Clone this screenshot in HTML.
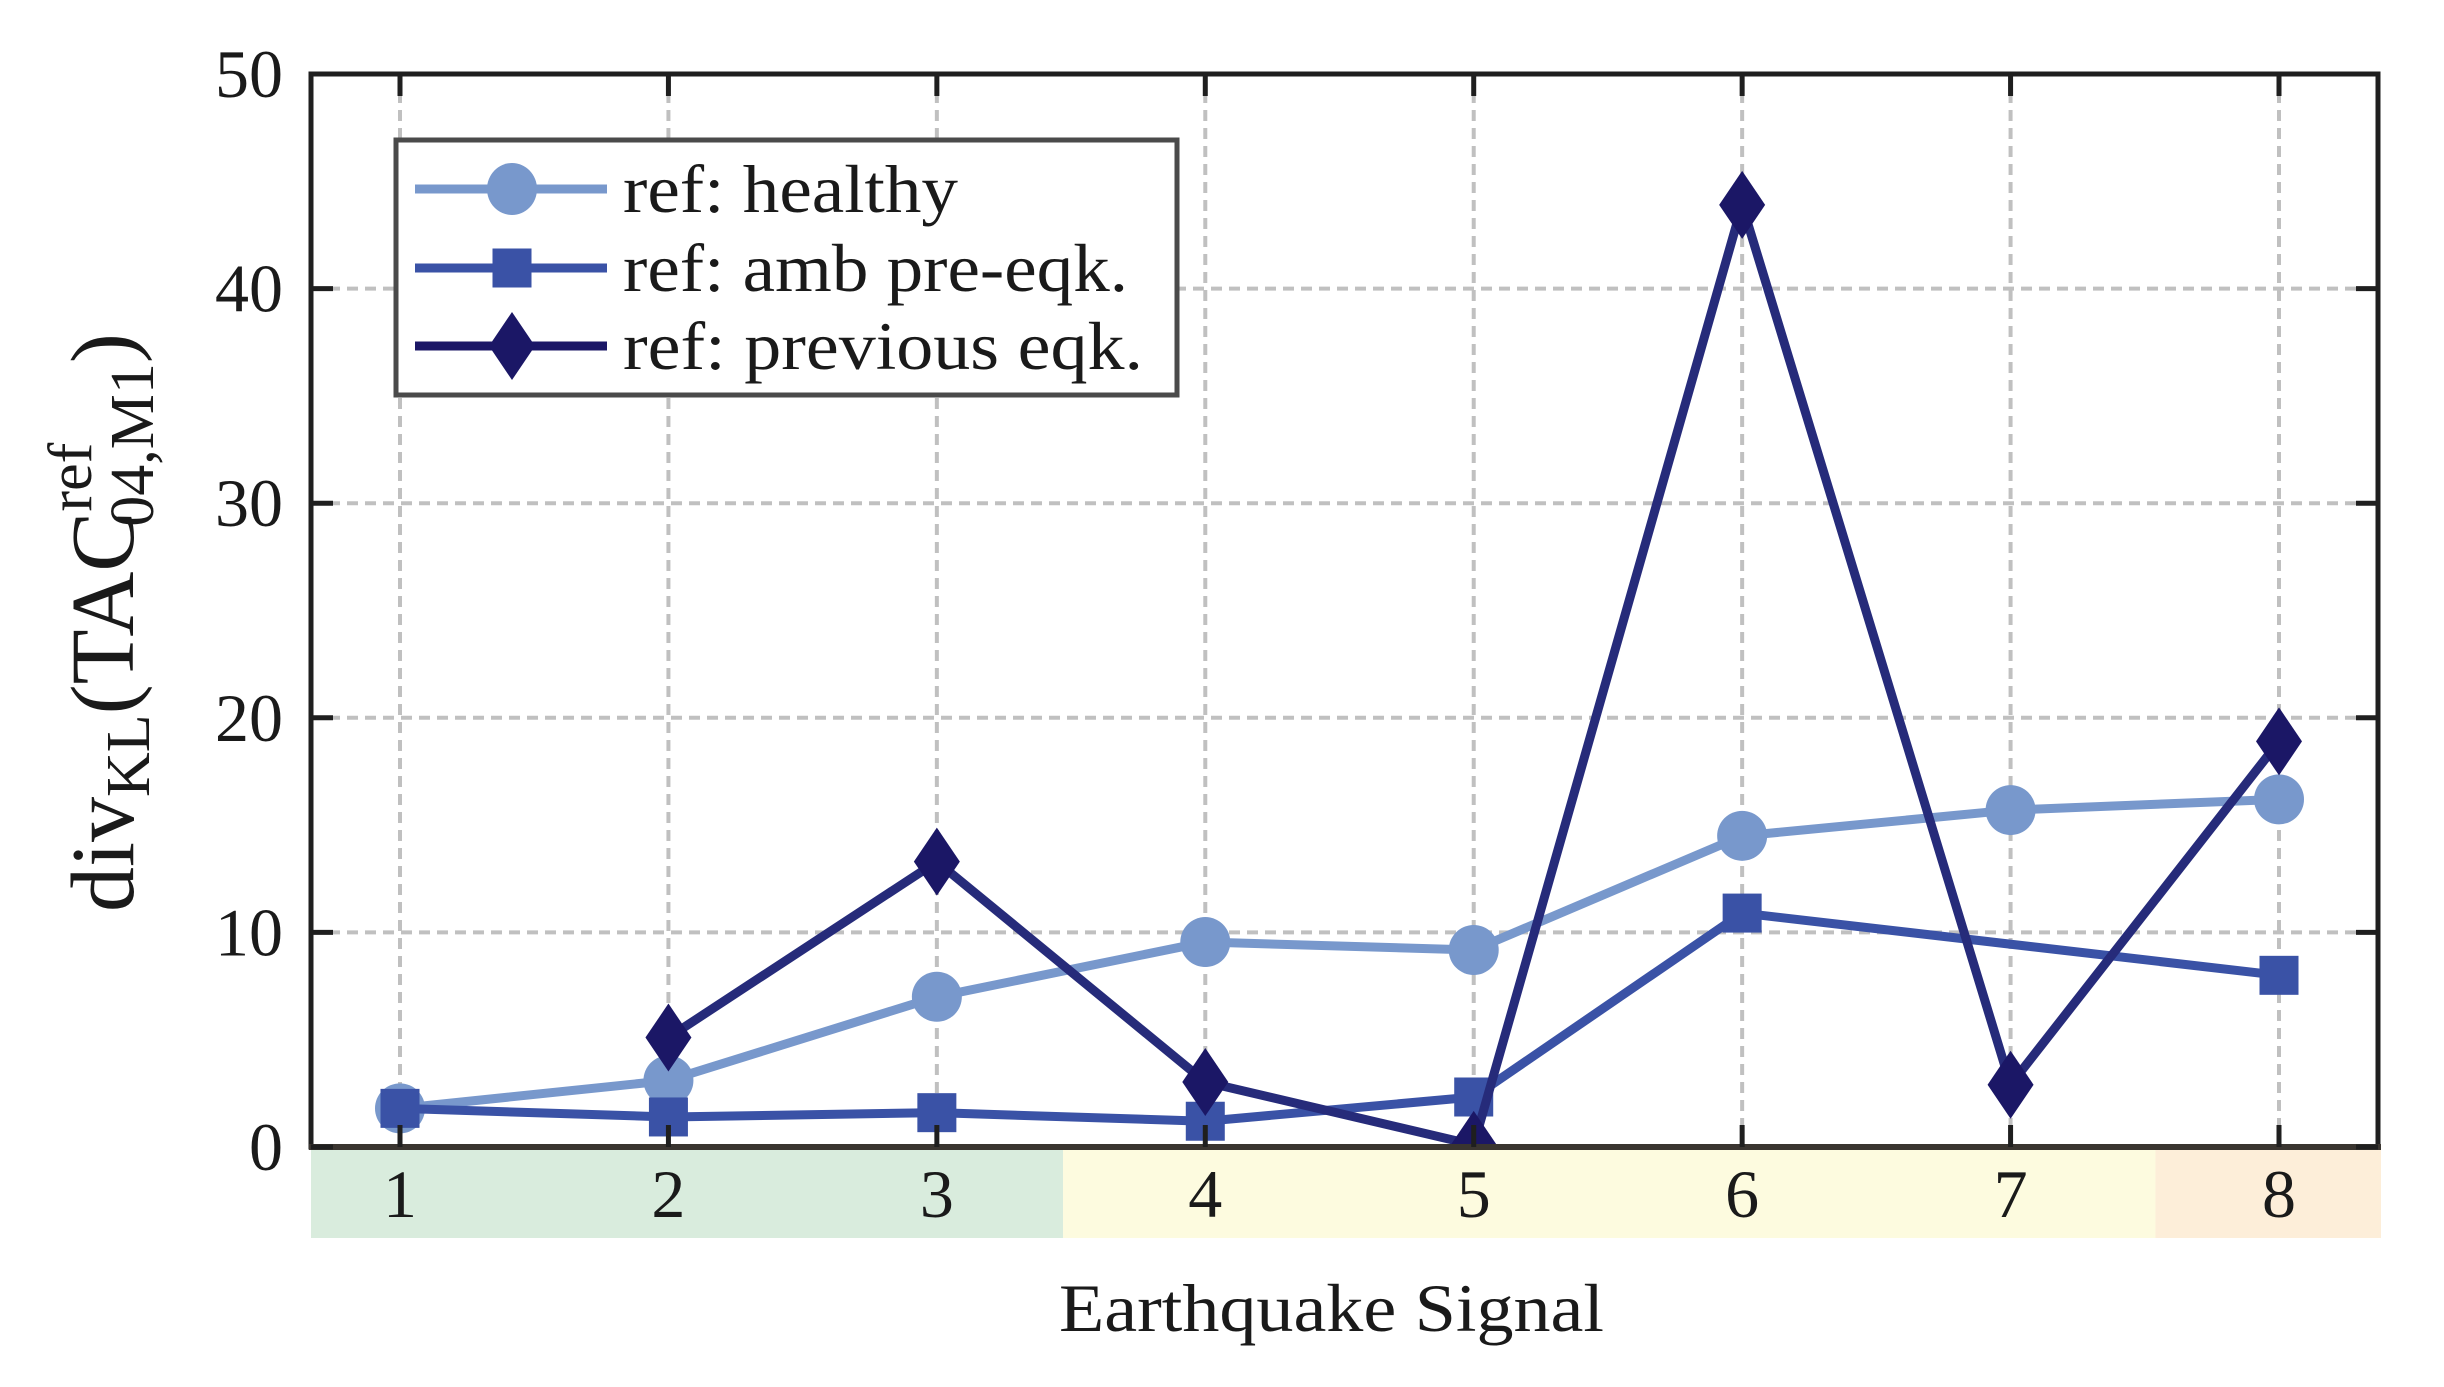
<!DOCTYPE html>
<html><head><meta charset="utf-8"><style>
html,body{margin:0;padding:0;background:#fff}
svg{display:block}
text{font-family:"Liberation Serif",serif;fill:#1a1a1a}
</style></head><body>
<svg id="chart" width="2444" height="1387" viewBox="0 0 2444 1387" xmlns="http://www.w3.org/2000/svg">
<defs><clipPath id="plotclip"><rect x="311" y="74" width="2067" height="1073"/></clipPath></defs>
<g id="bands"></g>
<g id="grid"></g>
<g id="series" clip-path="url(#plotclip)"></g>
<g id="axes"></g>
<g id="legend"></g>
</svg>
<script>
const categories = ["1","2","3","4","5","6","7","8"];
const healthy = [1.8, 3.1, 7.0, 9.55, 9.18, 14.5, 15.7, 16.2];
const ambPre = [1.8, 1.4, 1.6, 1.2, 2.33, 10.9, null, 8.0];
const previousEqk = [null, 5.1, 13.3, 3.03, 0.1, 43.9, 2.9, 18.9];
const yTicks = [0, 10, 20, 30, 40, 50];
const bandGroups = [{from:0.5,to:3.47,color:"#d9ecdd",name:"band-green"},{from:3.47,to:7.54,color:"#fdfbdf",name:"band-yellow"},{from:7.54,to:8.5,color:"#fdeed9",name:"band-orange"}];

const L=311,R=2378,T=74,B=1147;
const x0=400, dx=(2279-400)/7;
function xs(i){return x0+i*dx;}
function xv(v){return x0+(v-1)*dx;}
function ys(v){return B-(v/50)*(B-T);}
const NS="http://www.w3.org/2000/svg";
function mk(tag,attrs,parent){const e=document.createElementNS(NS,tag);for(const k in attrs)e.setAttribute(k,attrs[k]);parent.appendChild(e);return e;}

const bands=document.getElementById('bands');
bandGroups.forEach(b=>{
  const x1=Math.max(L,xv(b.from)), x2=Math.min(R+3,xv(b.to));
  const r=mk('rect',{x:x1,y:B,width:x2-x1,height:1238-B,fill:b.color},bands);
  
  
});

const grid=document.getElementById('grid');
yTicks.forEach(t=>{
  if(t>0&&t<50){
    const g=mk('line',{x1:L,x2:R,y1:ys(t),y2:ys(t),stroke:"#c0c0c0","stroke-width":4,"stroke-dasharray":"11 7"},grid);
    
    
  }
});
categories.forEach((c,i)=>{
  const g=mk('line',{x1:xs(i),x2:xs(i),y1:T,y2:B,stroke:"#c0c0c0","stroke-width":4,"stroke-dasharray":"11 7"},grid);
  
  
});

const series=document.getElementById('series');
function marker(kind,cx,cy,color,parent){
  let m;
  if(kind==='circle') m=mk('circle',{cx:cx,cy:cy,r:25,fill:color},parent);
  else if(kind==='square') m=mk('rect',{x:cx-19.5,y:cy-19.5,width:39,height:39,fill:color},parent);
  else m=mk('polygon',{points:`${cx},${cy-34} ${cx+23},${cy} ${cx},${cy+34} ${cx-23},${cy}`,fill:color},parent);
  return m;
}
function drawSeries(vals,lineColor,markColor,kind,name){
  const g=mk('g',{},series);
  
  
  const pts=[];vals.forEach((v,i)=>{if(v!==null)pts.push([xs(i),ys(v)]);});
  const pl=mk('polyline',{points:pts.map(p=>p.join(',')).join(' '),fill:'none',stroke:lineColor,'stroke-width':9,'stroke-linejoin':'round'},g);
  
  
  vals.forEach((v,i)=>{if(v===null)return;
    const m=marker(kind,xs(i),ys(v),markColor,g);
    
    
  });
}
drawSeries(healthy,"#7898cc","#7898cc","circle","healthy");
drawSeries(ambPre,"#3a52a6","#3a52a6","square","amb-pre-eqk");
drawSeries(previousEqk,"#262b7a","#1b1766","diamond","previous-eqk");

const axes=document.getElementById('axes');
const frame=mk('rect',{x:L,y:T,width:R-L,height:B-T,fill:'none',stroke:'#1f1f1f','stroke-width':5},axes);


const xl=mk('line',{x1:L-2,x2:R+3,y1:B,y2:B,stroke:'#3a3530','stroke-width':6},axes);


yTicks.forEach(t=>{
  const y=ys(t);
  const a=mk('line',{x1:L,x2:L+22,y1:y,y2:y,stroke:'#1f1f1f','stroke-width':5},axes);
  
  
  const b=mk('line',{x1:R-22,x2:R,y1:y,y2:y,stroke:'#1f1f1f','stroke-width':5},axes);
  
  
  const tx=mk('text',{x:283,y:y+23,'font-size':68,'text-anchor':'end'},axes);
  tx.textContent=t;
  
  
});
categories.forEach((c,i)=>{
  const x=xs(i);
  const a=mk('line',{x1:x,x2:x,y1:B,y2:B-22,stroke:'#1f1f1f','stroke-width':5},axes);
  
  
  const b=mk('line',{x1:x,x2:x,y1:T,y2:T+22,stroke:'#1f1f1f','stroke-width':5},axes);
  
  
  const tx=mk('text',{x:x,y:1217,'font-size':68,'text-anchor':'middle'},axes);
  tx.textContent=c;
  
  
});
const xt=mk('text',{x:1059,y:1331,'font-size':68,textLength:545,lengthAdjust:'spacingAndGlyphs'},axes);
xt.textContent="Earthquake Signal";



const yt=mk('text',{x:0,y:0,'font-size':90,transform:'translate(133,912) rotate(-90)'},axes);


yt.innerHTML='<tspan>div</tspan><tspan font-size="62" dy="16">KL</tspan><tspan dy="-16">(TAC</tspan><tspan font-size="62" dy="-42">ref</tspan><tspan font-size="62" dx="-84" dy="62">04,M1</tspan><tspan dy="-20">)</tspan>';

const legend=document.getElementById('legend');
const lb=mk('rect',{x:396,y:140,width:781,height:255,fill:'#fff',stroke:'#4a4a4a','stroke-width':5},legend);


const legendItems=[["ref: healthy","#7898cc","#7898cc","circle",189],["ref: amb pre-eqk.","#3a52a6","#3a52a6","square",268],["ref: previous eqk.","#1b1766","#1b1766","diamond",346]];
const lw=[335,505,520];
legendItems.forEach((it,k)=>{
  const g=mk('g',{},legend);
  
  
  mk('line',{x1:415,x2:607,y1:it[4],y2:it[4],stroke:it[1],'stroke-width':9},g);
  if(it[3]==='circle') mk('ellipse',{cx:512,cy:it[4],rx:25,ry:26,fill:it[2]},g);
  else marker(it[3],512,it[4],it[2],g);
  const t=mk('text',{x:623,y:it[4]+23,'font-size':68,textLength:lw[k],lengthAdjust:'spacingAndGlyphs'},g);
  t.textContent=it[0];
  
  
});
</script>
</body></html>
